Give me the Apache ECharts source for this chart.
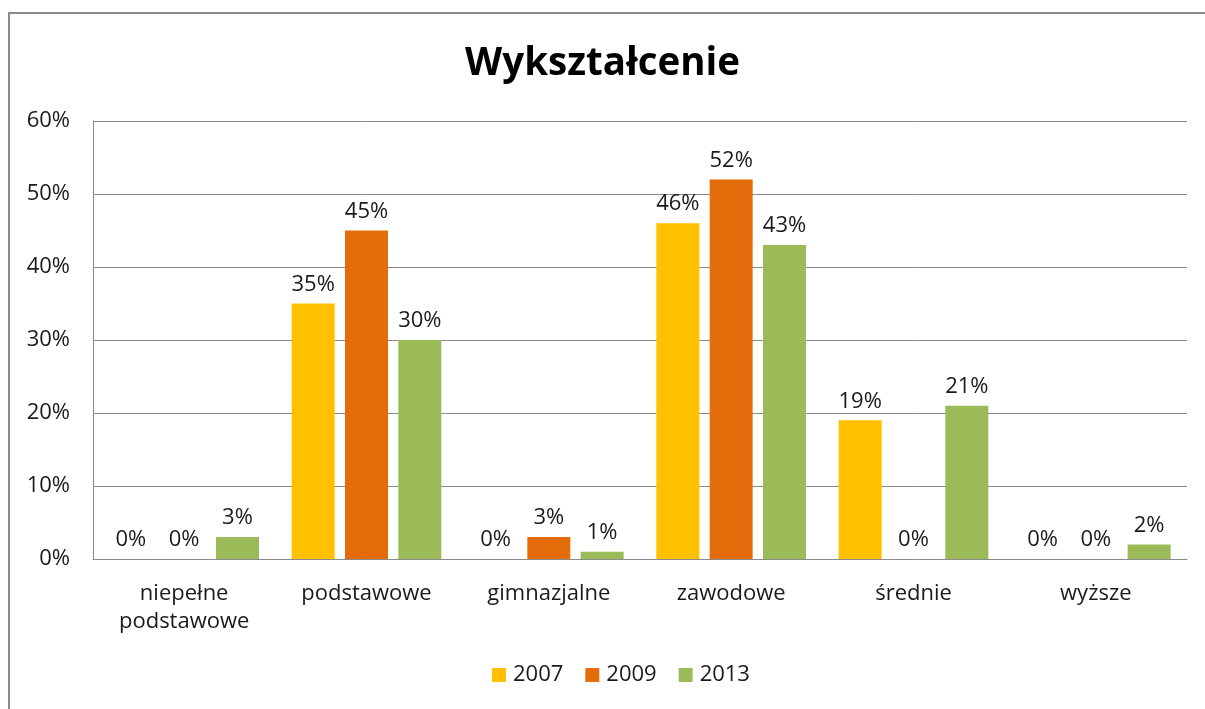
<!DOCTYPE html>
<html><head><meta charset="utf-8">
<script src="https://cdn.jsdelivr.net/npm/echarts@6/dist/echarts.min.js"></script>
<style>
html,body{margin:0;padding:0;background:#fff;}
#frame{position:absolute;left:8px;top:12px;width:1205px;height:720px;border-top:2px solid #8a8a8a;border-left:2px solid #8a8a8a;}
#c{position:absolute;left:0;top:0;width:1205px;height:709px;}
</style></head>
<body>
<div id="frame"></div>
<div id="c"></div>
<script>
const categories = ['niepełne\npodstawowe', 'podstawowe', 'gimnazjalne', 'zawodowe', 'średnie', 'wyższe'];
const seriesNames = ['2007', '2009', '2013'];
const values2007 = [0, 35, 0, 46, 19, 0];
const values2009 = [0, 45, 3, 52, 0, 0];
const values2013 = [3, 30, 1, 43, 21, 2];
const yTicks = [0, 10, 20, 30, 40, 50, 60];
const colors = ['#FFC000', '#E46C0A', '#9BBB59'];

const font = "'Open Sans', 'Noto Sans', sans-serif";
const chart = echarts.init(document.getElementById('c'));
const allValues = [values2007, values2009, values2013];
chart.setOption({
  animation: false,
  title: {
    text: 'Wykształcenie', left: 'center', top: 40,
    textStyle: {fontFamily: font, fontSize: 38.5, fontWeight: 'bold', color: '#000'}
  },
  legend: {
    data: seriesNames, bottom: 18, left: 487,
    icon: 'rect', itemWidth: 14, itemHeight: 14, itemGap: 22,
    textStyle: {fontFamily: font, fontSize: 22, color: '#1a1a1a', padding: [0,0,0,2]}
  },
  grid: {left: 93, right: 18, top: 121, bottom: 150, containLabel: false},
  xAxis: {
    type: 'category', data: categories,
    axisLine: {lineStyle: {color: '#8a8a8a', width: 1}},
    axisTick: {show: false},
    axisLabel: {fontFamily: font, fontSize: 22, color: '#1a1a1a', margin: 21, lineHeight: 28, interval: 0}
  },
  yAxis: {
    type: 'value', min: yTicks[0], max: yTicks[yTicks.length-1], interval: 10,
    axisLine: {show: true, lineStyle: {color: '#8a8a8a'}},
    axisTick: {show: false},
    splitLine: {lineStyle: {color: '#8a8a8a', width: 1}},
    axisLabel: {fontFamily: font, fontSize: 22, color: '#1a1a1a', margin: 23, formatter: v => v + '%'}
  },
  series: seriesNames.map((n, i) => ({
    name: n, type: 'bar', data: allValues[i],
    barWidth: 43, barGap: '24%',
    itemStyle: {color: colors[i]},
    label: {show: true, position: 'top', distance: 8, fontFamily: font, fontSize: 22, color: '#1a1a1a', formatter: p => p.value + '%'}
  }))
});
</script>
</body></html>
